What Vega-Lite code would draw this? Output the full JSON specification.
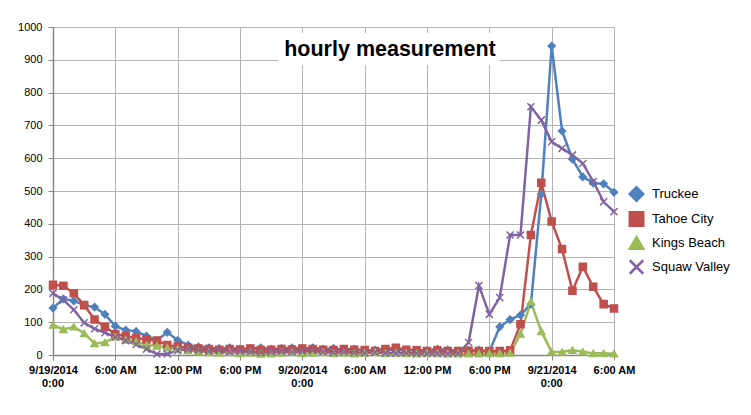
{
  "$schema": "https://vega.github.io/schema/vega-lite/v6.json",
  "width": 561,
  "height": 328,
  "autosize": {"type": "none"},
  "padding": {"left": 53, "top": 27, "right": 137, "bottom": 60},
  "background": "white",
  "config": {
    "view": {"stroke": null},
    "font": "Liberation Sans",
    "axis": {"grid": true, "gridColor": "#b4b4b4", "gridWidth": 1, "domainColor": "#868686", "domainWidth": 1.5, "tickColor": "#868686", "tickSize": 5, "labelColor": "#000000", "labelFontSize": 11, "labelFont": "Liberation Sans"}
  },
  "datasets": {
    "hourly": [
      {"t": "2014-09-19T00:00", "Truckee": 143, "Tahoe City": 214, "Kings Beach": 92, "Squaw Valley": 188},
      {"t": "2014-09-19T01:00", "Truckee": 171, "Tahoe City": 211, "Kings Beach": 78, "Squaw Valley": 168},
      {"t": "2014-09-19T02:00", "Truckee": 165, "Tahoe City": 188, "Kings Beach": 86, "Squaw Valley": 138},
      {"t": "2014-09-19T03:00", "Truckee": 152, "Tahoe City": 152, "Kings Beach": 66, "Squaw Valley": 98},
      {"t": "2014-09-19T04:00", "Truckee": 146, "Tahoe City": 108, "Kings Beach": 35, "Squaw Valley": 80},
      {"t": "2014-09-19T05:00", "Truckee": 124, "Tahoe City": 86, "Kings Beach": 38, "Squaw Valley": 68},
      {"t": "2014-09-19T06:00", "Truckee": 88, "Tahoe City": 64, "Kings Beach": 55, "Squaw Valley": 55},
      {"t": "2014-09-19T07:00", "Truckee": 76, "Tahoe City": 57, "Kings Beach": 46, "Squaw Valley": 44},
      {"t": "2014-09-19T08:00", "Truckee": 72, "Tahoe City": 52, "Kings Beach": 41, "Squaw Valley": 32},
      {"t": "2014-09-19T09:00", "Truckee": 58, "Tahoe City": 47, "Kings Beach": 30, "Squaw Valley": 18},
      {"t": "2014-09-19T10:00", "Truckee": 45, "Tahoe City": 44, "Kings Beach": 28, "Squaw Valley": 3},
      {"t": "2014-09-19T11:00", "Truckee": 69, "Tahoe City": 30, "Kings Beach": 22, "Squaw Valley": 3},
      {"t": "2014-09-19T12:00", "Truckee": 45, "Tahoe City": 26, "Kings Beach": 18, "Squaw Valley": 14},
      {"t": "2014-09-19T13:00", "Truckee": 30, "Tahoe City": 22, "Kings Beach": 14, "Squaw Valley": 18},
      {"t": "2014-09-19T14:00", "Truckee": 25, "Tahoe City": 20, "Kings Beach": 10, "Squaw Valley": 15},
      {"t": "2014-09-19T15:00", "Truckee": 22, "Tahoe City": 18, "Kings Beach": 8, "Squaw Valley": 12},
      {"t": "2014-09-19T16:00", "Truckee": 20, "Tahoe City": 16, "Kings Beach": 6, "Squaw Valley": 14},
      {"t": "2014-09-19T17:00", "Truckee": 22, "Tahoe City": 18, "Kings Beach": 8, "Squaw Valley": 10},
      {"t": "2014-09-19T18:00", "Truckee": 18, "Tahoe City": 17, "Kings Beach": 5, "Squaw Valley": 12},
      {"t": "2014-09-19T19:00", "Truckee": 20, "Tahoe City": 20, "Kings Beach": 6, "Squaw Valley": 10},
      {"t": "2014-09-19T20:00", "Truckee": 22, "Tahoe City": 15, "Kings Beach": 3, "Squaw Valley": 8},
      {"t": "2014-09-19T21:00", "Truckee": 18, "Tahoe City": 16, "Kings Beach": 4, "Squaw Valley": 10},
      {"t": "2014-09-19T22:00", "Truckee": 20, "Tahoe City": 18, "Kings Beach": 6, "Squaw Valley": 12},
      {"t": "2014-09-19T23:00", "Truckee": 22, "Tahoe City": 17, "Kings Beach": 8, "Squaw Valley": 10},
      {"t": "2014-09-20T00:00", "Truckee": 20, "Tahoe City": 20, "Kings Beach": 5, "Squaw Valley": 12},
      {"t": "2014-09-20T01:00", "Truckee": 22, "Tahoe City": 18, "Kings Beach": 6, "Squaw Valley": 14},
      {"t": "2014-09-20T02:00", "Truckee": 18, "Tahoe City": 16, "Kings Beach": 8, "Squaw Valley": 10},
      {"t": "2014-09-20T03:00", "Truckee": 20, "Tahoe City": 15, "Kings Beach": 5, "Squaw Valley": 8},
      {"t": "2014-09-20T04:00", "Truckee": 16, "Tahoe City": 18, "Kings Beach": 6, "Squaw Valley": 10},
      {"t": "2014-09-20T05:00", "Truckee": 18, "Tahoe City": 16, "Kings Beach": 4, "Squaw Valley": 8},
      {"t": "2014-09-20T06:00", "Truckee": 14, "Tahoe City": 15, "Kings Beach": 6, "Squaw Valley": 6},
      {"t": "2014-09-20T07:00", "Truckee": 15, "Tahoe City": 12, "Kings Beach": 8, "Squaw Valley": 8},
      {"t": "2014-09-20T08:00", "Truckee": 18, "Tahoe City": 18, "Kings Beach": 5, "Squaw Valley": 6},
      {"t": "2014-09-20T09:00", "Truckee": 14, "Tahoe City": 22, "Kings Beach": 6, "Squaw Valley": 5},
      {"t": "2014-09-20T10:00", "Truckee": 16, "Tahoe City": 16, "Kings Beach": 5, "Squaw Valley": 6},
      {"t": "2014-09-20T11:00", "Truckee": 15, "Tahoe City": 14, "Kings Beach": 4, "Squaw Valley": 5},
      {"t": "2014-09-20T12:00", "Truckee": 14, "Tahoe City": 12, "Kings Beach": 6, "Squaw Valley": 4},
      {"t": "2014-09-20T13:00", "Truckee": 18, "Tahoe City": 14, "Kings Beach": 5, "Squaw Valley": 5},
      {"t": "2014-09-20T14:00", "Truckee": 15, "Tahoe City": 12, "Kings Beach": 4, "Squaw Valley": 4},
      {"t": "2014-09-20T15:00", "Truckee": 12, "Tahoe City": 12, "Kings Beach": 4, "Squaw Valley": 5},
      {"t": "2014-09-20T16:00", "Truckee": 14, "Tahoe City": 13, "Kings Beach": 4, "Squaw Valley": 38},
      {"t": "2014-09-20T17:00", "Truckee": 15, "Tahoe City": 12, "Kings Beach": 4, "Squaw Valley": 212},
      {"t": "2014-09-20T18:00", "Truckee": 10, "Tahoe City": 12, "Kings Beach": 5, "Squaw Valley": 124},
      {"t": "2014-09-20T19:00", "Truckee": 86, "Tahoe City": 12, "Kings Beach": 5, "Squaw Valley": 175},
      {"t": "2014-09-20T20:00", "Truckee": 108, "Tahoe City": 14, "Kings Beach": 6, "Squaw Valley": 366},
      {"t": "2014-09-20T21:00", "Truckee": 122, "Tahoe City": 94, "Kings Beach": 64, "Squaw Valley": 366},
      {"t": "2014-09-20T22:00", "Truckee": 155, "Tahoe City": 366, "Kings Beach": 162, "Squaw Valley": 757},
      {"t": "2014-09-20T23:00", "Truckee": 490, "Tahoe City": 525, "Kings Beach": 72, "Squaw Valley": 716},
      {"t": "2014-09-21T00:00", "Truckee": 942, "Tahoe City": 407, "Kings Beach": 10, "Squaw Valley": 650},
      {"t": "2014-09-21T01:00", "Truckee": 683, "Tahoe City": 323, "Kings Beach": 9, "Squaw Valley": 630},
      {"t": "2014-09-21T02:00", "Truckee": 597, "Tahoe City": 196, "Kings Beach": 15, "Squaw Valley": 610},
      {"t": "2014-09-21T03:00", "Truckee": 543, "Tahoe City": 269, "Kings Beach": 10, "Squaw Valley": 584},
      {"t": "2014-09-21T04:00", "Truckee": 524, "Tahoe City": 208, "Kings Beach": 5, "Squaw Valley": 529},
      {"t": "2014-09-21T05:00", "Truckee": 522, "Tahoe City": 155, "Kings Beach": 5, "Squaw Valley": 467},
      {"t": "2014-09-21T06:00", "Truckee": 496, "Tahoe City": 142, "Kings Beach": 4, "Squaw Valley": 437}
    ],
    "box": [{"label": "hourly measurement"}],
    "midnights": [
      {"t": "2014-09-19T00:00", "label": "0:00"},
      {"t": "2014-09-20T00:00", "label": "0:00"},
      {"t": "2014-09-21T00:00", "label": "0:00"}
    ]
  },
  "layer": [
    {
      "data": {"name": "box"},
      "mark": {"type": "rect", "fill": "white"},
      "encoding": {
        "x": {
          "datum": {"year": 2014, "month": 9, "date": 19, "hours": 21, "minutes": 40},
          "type": "temporal",
          "title": null,
          "scale": {"domain": [{"year": 2014, "month": 9, "date": 19, "hours": 0}, {"year": 2014, "month": 9, "date": 21, "hours": 6}], "nice": false},
          "axis": {
            "values": [
              {"year": 2014, "month": 9, "date": 19, "hours": 0},
              {"year": 2014, "month": 9, "date": 19, "hours": 6},
              {"year": 2014, "month": 9, "date": 19, "hours": 12},
              {"year": 2014, "month": 9, "date": 19, "hours": 18},
              {"year": 2014, "month": 9, "date": 20, "hours": 0},
              {"year": 2014, "month": 9, "date": 20, "hours": 6},
              {"year": 2014, "month": 9, "date": 20, "hours": 12},
              {"year": 2014, "month": 9, "date": 20, "hours": 18},
              {"year": 2014, "month": 9, "date": 21, "hours": 0},
              {"year": 2014, "month": 9, "date": 21, "hours": 6}
            ],
            "labelExpr": "timeFormat(datum.value, '%H') == '00' ? timeFormat(datum.value, '%-m/%-d/%Y') : timeFormat(datum.value, '%-I:%M %p')",
            "labelFontWeight": "bold",
            "labelPadding": 4,
            "labelFlush": false,
            "labelOverlap": false,
            "grid": true
          }
        },
        "x2": {"datum": {"year": 2014, "month": 9, "date": 20, "hours": 19}},
        "y": {
          "datum": 884,
          "type": "quantitative",
          "title": null,
          "scale": {"domain": [0, 1000], "nice": false},
          "axis": {"values": [0, 100, 200, 300, 400, 500, 600, 700, 800, 900, 1000], "format": "d", "labelPadding": 6, "grid": true}
        },
        "y2": {"datum": 982}
      }
    },
    {
      "data": {"name": "box"},
      "mark": {"type": "text", "fontSize": 21.5, "fontWeight": "bold", "font": "Liberation Sans", "align": "center", "baseline": "alphabetic", "color": "#000000"},
      "encoding": {
        "x": {
          "datum": {"year": 2014, "month": 9, "date": 20, "hours": 8, "minutes": 26},
          "type": "temporal",
          "title": null,
          "scale": {"domain": [{"year": 2014, "month": 9, "date": 19, "hours": 0}, {"year": 2014, "month": 9, "date": 21, "hours": 6}], "nice": false},
          "axis": {
            "values": [
              {"year": 2014, "month": 9, "date": 19, "hours": 0},
              {"year": 2014, "month": 9, "date": 19, "hours": 6},
              {"year": 2014, "month": 9, "date": 19, "hours": 12},
              {"year": 2014, "month": 9, "date": 19, "hours": 18},
              {"year": 2014, "month": 9, "date": 20, "hours": 0},
              {"year": 2014, "month": 9, "date": 20, "hours": 6},
              {"year": 2014, "month": 9, "date": 20, "hours": 12},
              {"year": 2014, "month": 9, "date": 20, "hours": 18},
              {"year": 2014, "month": 9, "date": 21, "hours": 0},
              {"year": 2014, "month": 9, "date": 21, "hours": 6}
            ],
            "labelExpr": "timeFormat(datum.value, '%H') == '00' ? timeFormat(datum.value, '%-m/%-d/%Y') : timeFormat(datum.value, '%-I:%M %p')",
            "labelFontWeight": "bold",
            "labelPadding": 4,
            "labelFlush": false,
            "labelOverlap": false,
            "grid": true
          }
        },
        "y": {
          "datum": 911,
          "type": "quantitative",
          "title": null,
          "scale": {"domain": [0, 1000], "nice": false},
          "axis": {"values": [0, 100, 200, 300, 400, 500, 600, 700, 800, 900, 1000], "format": "d", "labelPadding": 6, "grid": true}
        },
        "text": {"field": "label"}
      }
    },
    {
      "data": {"name": "midnights"},
      "mark": {"type": "text", "fontSize": 11, "fontWeight": "bold", "font": "Liberation Sans", "align": "center", "baseline": "middle", "color": "#000000"},
      "encoding": {
        "x": {
          "field": "t",
          "type": "temporal",
          "title": null,
          "scale": {"domain": [{"year": 2014, "month": 9, "date": 19, "hours": 0}, {"year": 2014, "month": 9, "date": 21, "hours": 6}], "nice": false},
          "axis": {
            "values": [
              {"year": 2014, "month": 9, "date": 19, "hours": 0},
              {"year": 2014, "month": 9, "date": 19, "hours": 6},
              {"year": 2014, "month": 9, "date": 19, "hours": 12},
              {"year": 2014, "month": 9, "date": 19, "hours": 18},
              {"year": 2014, "month": 9, "date": 20, "hours": 0},
              {"year": 2014, "month": 9, "date": 20, "hours": 6},
              {"year": 2014, "month": 9, "date": 20, "hours": 12},
              {"year": 2014, "month": 9, "date": 20, "hours": 18},
              {"year": 2014, "month": 9, "date": 21, "hours": 0},
              {"year": 2014, "month": 9, "date": 21, "hours": 6}
            ],
            "labelExpr": "timeFormat(datum.value, '%H') == '00' ? timeFormat(datum.value, '%-m/%-d/%Y') : timeFormat(datum.value, '%-I:%M %p')",
            "labelFontWeight": "bold",
            "labelPadding": 4,
            "labelFlush": false,
            "labelOverlap": false,
            "grid": true
          }
        },
        "y": {
          "datum": -88,
          "type": "quantitative",
          "title": null,
          "scale": {"domain": [0, 1000], "nice": false},
          "axis": {"values": [0, 100, 200, 300, 400, 500, 600, 700, 800, 900, 1000], "format": "d", "labelPadding": 6, "grid": true}
        },
        "text": {"field": "label"}
      }
    },
    {
      "data": {"name": "hourly"},
      "transform": [
        {"fold": ["Truckee", "Tahoe City", "Kings Beach", "Squaw Valley"], "as": ["site", "value"]}
      ],
      "mark": {"type": "line", "strokeWidth": 2.5},
      "encoding": {
        "x": {
          "field": "t",
          "type": "temporal",
          "title": null,
          "scale": {"domain": [{"year": 2014, "month": 9, "date": 19, "hours": 0}, {"year": 2014, "month": 9, "date": 21, "hours": 6}], "nice": false},
          "axis": {
            "values": [
              {"year": 2014, "month": 9, "date": 19, "hours": 0},
              {"year": 2014, "month": 9, "date": 19, "hours": 6},
              {"year": 2014, "month": 9, "date": 19, "hours": 12},
              {"year": 2014, "month": 9, "date": 19, "hours": 18},
              {"year": 2014, "month": 9, "date": 20, "hours": 0},
              {"year": 2014, "month": 9, "date": 20, "hours": 6},
              {"year": 2014, "month": 9, "date": 20, "hours": 12},
              {"year": 2014, "month": 9, "date": 20, "hours": 18},
              {"year": 2014, "month": 9, "date": 21, "hours": 0},
              {"year": 2014, "month": 9, "date": 21, "hours": 6}
            ],
            "labelExpr": "timeFormat(datum.value, '%H') == '00' ? timeFormat(datum.value, '%-m/%-d/%Y') : timeFormat(datum.value, '%-I:%M %p')",
            "labelFontWeight": "bold",
            "labelPadding": 4,
            "labelFlush": false,
            "labelOverlap": false,
            "grid": true
          }
        },
        "y": {
          "field": "value",
          "type": "quantitative",
          "title": null,
          "scale": {"domain": [0, 1000], "nice": false},
          "axis": {"values": [0, 100, 200, 300, 400, 500, 600, 700, 800, 900, 1000], "format": "d", "labelPadding": 6, "grid": true}
        },
        "color": {
          "field": "site",
          "type": "nominal",
          "scale": {"domain": ["Truckee", "Tahoe City", "Kings Beach", "Squaw Valley"], "range": ["#4F81BD", "#C0504D", "#9BBB59", "#8064A2"]},
          "legend": {
            "title": null,
            "orient": "none",
            "legendX": 575.5,
            "legendY": 159,
            "padding": 0,
            "symbolSize": 182,
            "symbolType": "M-2,0H2",
            "symbolStrokeWidth": 2.5,
            "labelFontSize": 13,
            "labelFont": "Liberation Sans",
            "labelColor": "#000000",
            "labelOffset": 7.5,
            "rowPadding": 1
          }
        }
      }
    },
    {
      "data": {"name": "hourly"},
      "transform": [
        {"fold": ["Truckee", "Tahoe City", "Kings Beach", "Squaw Valley"], "as": ["station", "value"]}
      ],
      "mark": {"type": "point", "filled": true, "size": 50, "strokeWidth": 1.5, "opacity": 1},
      "encoding": {
        "x": {
          "field": "t",
          "type": "temporal",
          "title": null,
          "scale": {"domain": [{"year": 2014, "month": 9, "date": 19, "hours": 0}, {"year": 2014, "month": 9, "date": 21, "hours": 6}], "nice": false},
          "axis": {
            "values": [
              {"year": 2014, "month": 9, "date": 19, "hours": 0},
              {"year": 2014, "month": 9, "date": 19, "hours": 6},
              {"year": 2014, "month": 9, "date": 19, "hours": 12},
              {"year": 2014, "month": 9, "date": 19, "hours": 18},
              {"year": 2014, "month": 9, "date": 20, "hours": 0},
              {"year": 2014, "month": 9, "date": 20, "hours": 6},
              {"year": 2014, "month": 9, "date": 20, "hours": 12},
              {"year": 2014, "month": 9, "date": 20, "hours": 18},
              {"year": 2014, "month": 9, "date": 21, "hours": 0},
              {"year": 2014, "month": 9, "date": 21, "hours": 6}
            ],
            "labelExpr": "timeFormat(datum.value, '%H') == '00' ? timeFormat(datum.value, '%-m/%-d/%Y') : timeFormat(datum.value, '%-I:%M %p')",
            "labelFontWeight": "bold",
            "labelPadding": 4,
            "labelFlush": false,
            "labelOverlap": false,
            "grid": true
          }
        },
        "y": {
          "field": "value",
          "type": "quantitative",
          "title": null,
          "scale": {"domain": [0, 1000], "nice": false},
          "axis": {"values": [0, 100, 200, 300, 400, 500, 600, 700, 800, 900, 1000], "format": "d", "labelPadding": 6, "grid": true}
        },
        "fill": {"field": "station", "type": "nominal", "scale": {"domain": ["Truckee", "Tahoe City", "Kings Beach", "Squaw Valley"], "range": ["#4F81BD", "#C0504D", "#9BBB59", "#8064A2"]}, "legend": null},
        "stroke": {"field": "station", "type": "nominal", "scale": {"domain": ["Truckee", "Tahoe City", "Kings Beach", "Squaw Valley"], "range": ["#4F81BD", "#C0504D", "#9BBB59", "#8064A2"]}, "legend": null},
        "shape": {
          "field": "station",
          "type": "nominal",
          "scale": {"domain": ["Truckee", "Tahoe City", "Kings Beach", "Squaw Valley"], "range": ["diamond", "square", "triangle-up", "M-1,-1L1,1M-1,1L1,-1"]},
          "legend": null
        }
      }
    }
  ]
}
